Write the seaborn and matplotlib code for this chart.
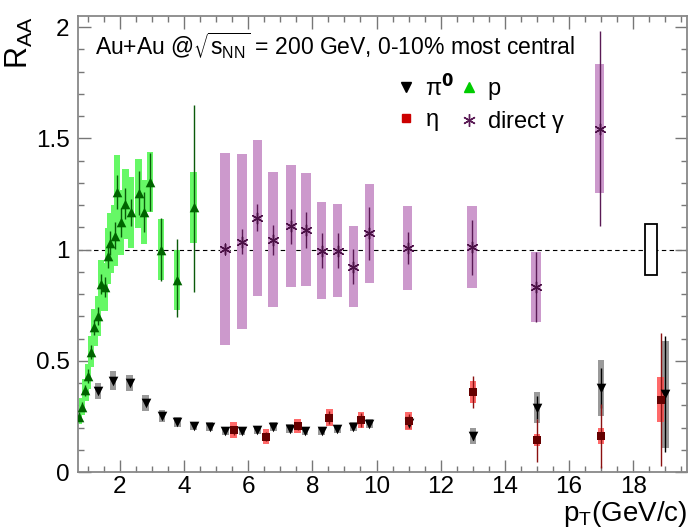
import numpy as np
import pandas as pd
import seaborn as sns
import matplotlib.pyplot as plt
from matplotlib.lines import Line2D
from matplotlib.patches import Rectangle
from matplotlib.ticker import MultipleLocator

sns.set_theme(style='ticks')
plt.rcParams['font.family'] = ['Liberation Sans', 'DejaVu Sans']
plt.rcParams['mathtext.default'] = 'regular'
plt.rcParams['text.color'] = 'black'
plt.rcParams['axes.labelcolor'] = 'black'

# pi0
pi0_pt = [1.32, 1.79, 2.31, 2.81, 3.31, 3.80, 4.30, 4.80, 5.29, 5.81, 6.29, 6.79,
          7.29, 7.78, 8.29, 8.78, 9.28, 9.78, 11.0, 13.0, 15.0, 17.0, 19.0]
pi0_raa = [0.365, 0.41, 0.40, 0.31, 0.25, 0.225, 0.207, 0.203, 0.185, 0.185, 0.19, 0.204,
           0.195, 0.185, 0.185, 0.193, 0.203, 0.218, 0.222, 0.162, 0.29, 0.377, 0.35]
pi0_sys = [0.036, 0.043, 0.036, 0.036, 0.027, 0.022, 0.02, 0.02, 0.018, 0.018, 0.019, 0.02,
           0.019, 0.018, 0.018, 0.019, 0.02, 0.022, 0.03, 0.035, 0.07, 0.125, 0.24]
pi0_stat = [0.01, 0.01, 0.01, 0.01, 0.01, 0.01, 0.01, 0.01, 0.01, 0.01, 0.01, 0.01,
            0.01, 0.01, 0.01, 0.01, 0.01, 0.01, 0.015, 0.02, 0.05, 0.09, 0.26]

# eta
eta_pt = [5.55, 6.55, 7.54, 8.53, 9.52, 11.0, 13.0, 15.0, 17.0, 18.85]
eta_raa = [0.188, 0.159, 0.207, 0.245, 0.234, 0.23, 0.36, 0.143, 0.162, 0.326]
eta_sys = [0.037, 0.033, 0.03, 0.04, 0.038, 0.04, 0.05, 0.028, 0.036, 0.1]
eta_stat = [0.02, 0.02, 0.02, 0.03, 0.03, 0.03, 0.07, 0.097, 0.142, 0.30]

# protons
p_pt = [0.73, 0.83, 0.93, 1.01, 1.11, 1.21, 1.32, 1.42, 1.53, 1.63, 1.71, 1.84,
        1.92, 2.04, 2.18, 2.36, 2.59, 2.75, 2.95, 3.29, 3.78, 4.30]
p_raa = [0.248, 0.293, 0.368, 0.431, 0.54, 0.65, 0.703, 0.845, 0.83, 0.969, 1.03, 1.063,
         1.258, 1.123, 1.206, 1.168, 1.254, 1.168, 1.303, 1.0, 0.863, 1.19]
p_sys = [0.032, 0.038, 0.048, 0.056, 0.07, 0.085, 0.09, 0.11, 0.108, 0.126, 0.134, 0.138,
         0.165, 0.146, 0.157, 0.16, 0.155, 0.145, 0.135, 0.137, 0.135, 0.16]
p_stat_lo = [0.02, 0.02, 0.025, 0.03, 0.03, 0.035, 0.04, 0.045, 0.045, 0.05, 0.055, 0.06,
             0.075, 0.065, 0.07, 0.06, 0.1, 0.09, 0.13, 0.14, 0.168, 0.38]
p_stat_hi = [0.02, 0.02, 0.025, 0.03, 0.03, 0.035, 0.04, 0.045, 0.045, 0.05, 0.055, 0.06,
             0.075, 0.065, 0.07, 0.06, 0.1, 0.09, 0.13, 0.14, 0.185, 0.46]

# direct photons
g_pt = [5.29, 5.81, 6.29, 6.77, 7.33, 7.81, 8.29, 8.79, 9.28, 9.78, 10.97, 12.98, 14.96, 16.95]
g_raa = [1.003, 1.036, 1.143, 1.044, 1.104, 1.089, 0.995, 0.995, 0.923, 1.073, 1.006, 1.01, 0.833, 1.544]
g_sys = [0.433, 0.393, 0.35, 0.304, 0.274, 0.254, 0.219, 0.208, 0.183, 0.222, 0.189, 0.185, 0.157, 0.288]
g_stat = [0.02, 0.055, 0.06, 0.068, 0.08, 0.08, 0.078, 0.078, 0.078, 0.119, 0.071, 0.124, 0.157, 0.44]

# global normalisation uncertainty box
norm_pt = 18.55
norm_err = 0.115

fig = plt.figure(figsize=(6.9, 5.31), dpi=100)
ax = fig.add_axes([0.113, 0.111, 0.883, 0.859])


def sys_boxes(pt, val, err, width, color, alpha=1.0):
    val = np.array(val)
    err = np.array(err)
    ax.bar(pt, 2 * err, bottom=val - err, width=width, color=color,
           alpha=alpha, linewidth=0, zorder=1)


sys_boxes(g_pt, g_raa, g_sys, 0.3, '#cc99cc')
sys_boxes(p_pt, p_raa, p_sys, 0.2, '#66f866')
sys_boxes(pi0_pt, pi0_raa, pi0_sys, 0.2, '#9a9a9a')
sys_boxes(eta_pt, eta_raa, eta_sys, 0.2, '#ff5050', alpha=0.85)

ax.errorbar(g_pt, g_raa, yerr=g_stat, fmt='none', ecolor='#5a1a55', elinewidth=1.0, zorder=2)
ax.errorbar(p_pt, p_raa, yerr=[p_stat_lo, p_stat_hi], fmt='none', ecolor='#0a5a0a',
            elinewidth=1.0, zorder=2)
ax.errorbar(pi0_pt, pi0_raa, yerr=pi0_stat, fmt='none', ecolor='black', elinewidth=1.0, zorder=2)
ax.errorbar(eta_pt, eta_raa, yerr=eta_stat, fmt='none', ecolor='#8b1010', elinewidth=1.0, zorder=2)

sns.scatterplot(x=g_pt, y=g_raa, marker=(6, 2, 0), s=60, color='#4a1045',
                linewidth=1.0, ax=ax, zorder=3)
sns.scatterplot(x=p_pt, y=p_raa, marker='^', s=48, color='#006400',
                linewidth=0, ax=ax, zorder=3)
sns.scatterplot(x=pi0_pt, y=pi0_raa, marker='v', s=48, color='black',
                linewidth=0, ax=ax, zorder=3)
sns.scatterplot(x=eta_pt, y=eta_raa, marker='s', s=32, color='#660000',
                linewidth=0, ax=ax, zorder=4)

ax.axhline(1.0, color='black', lw=0.8, ls=(0, (4, 3)), zorder=0)
ax.add_patch(Rectangle((norm_pt - 0.175, 1.0 - norm_err), 0.35, 2 * norm_err,
                       facecolor='white', edgecolor='black', lw=1.3, zorder=2))

ax.set_xlim(0.7, 19.68)
ax.set_ylim(0, 2.05)
ax.xaxis.set_major_locator(MultipleLocator(2))
ax.xaxis.set_minor_locator(MultipleLocator(0.5))
ax.yaxis.set_major_locator(MultipleLocator(0.5))
ax.yaxis.set_minor_locator(MultipleLocator(0.1))
ax.set_yticks([0, 0.5, 1, 1.5, 2])
ax.set_yticklabels(['0', '0.5', '1', '1.5', '2'])
ax.set_xticks([2, 4, 6, 8, 10, 12, 14, 16, 18])
ax.tick_params(which='both', direction='in', top=True, right=True, color='#777777',
               labelcolor='black', labelsize=17.5)
ax.tick_params(axis='x', pad=3)
ax.tick_params(axis='y', pad=6)
ax.tick_params(which='major', length=9, width=1.0)
ax.tick_params(which='minor', length=4.5, width=1.0)
for sp in ax.spines.values():
    sp.set_color('#888888')
    sp.set_linewidth(1.3)

ax.set_ylabel('R$_{AA}$', fontsize=22, loc='top')
ax.yaxis.set_label_coords(-0.07, 1.0)
ax.set_xlabel('p$_{T}$(GeV/c)', fontsize=20, loc='right')
ax.xaxis.set_label_coords(1.0, -0.06)

ax.text(0.028, 0.935, r'Au+Au @$\sqrt{s_{NN}}$ = 200 GeV, 0-10% most central',
        transform=ax.transAxes, fontsize=16.5, va='center', ha='left')

handles = [
    Line2D([], [], ls='none', marker='v', ms=7, color='black'),
    Line2D([], [], ls='none', marker='s', ms=6, color='#cc0000'),
    Line2D([], [], ls='none', marker='^', ms=7, color='#00cc00'),
    Line2D([], [], ls='none', marker=(6, 2, 0), ms=9, color='#5a1a55', mew=1.0),
]
labels = [r'$\pi^{\mathbf{0}}$', r'$\eta$', 'p', r'direct $\gamma$']
ax.legend(handles, labels, ncol=2, loc='upper left', bbox_to_anchor=(0.508, 0.894),
          frameon=False, fontsize=17, handlelength=0.8, handletextpad=0.4,
          columnspacing=0.2, labelspacing=0.38, borderaxespad=0)

fig.savefig('out.png', dpi=100)
